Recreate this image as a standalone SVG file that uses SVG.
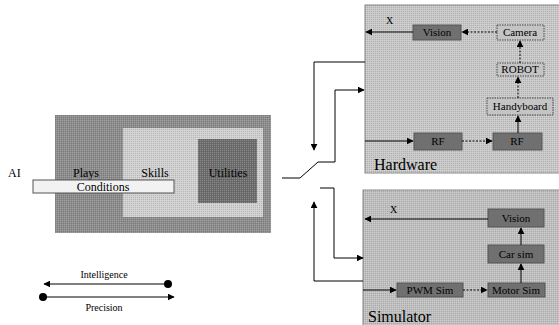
<svg xmlns="http://www.w3.org/2000/svg" width="559" height="325" viewBox="0 0 559 325">
<defs>
<marker id="ah" viewBox="0 0 10 10" refX="9" refY="5" markerWidth="7" markerHeight="7" orient="auto-start-reverse" markerUnits="userSpaceOnUse"><path d="M0,0 L10,5 L0,10 z" fill="#000"/></marker>
<marker id="dot" viewBox="0 0 10 10" refX="5" refY="5" markerWidth="8" markerHeight="8" markerUnits="userSpaceOnUse"><circle cx="5" cy="5" r="5" fill="#000"/></marker>
<pattern id="dith" width="2" height="2" patternUnits="userSpaceOnUse"><rect width="1" height="1" fill="#fff" fill-opacity="0.18"/><rect x="1" y="1" width="1" height="1" fill="#000" fill-opacity="0.12"/></pattern>
</defs>
<style>
text{font-family:"Liberation Serif","Times New Roman",serif;fill:#000}
.n{font-size:11px;text-anchor:middle}
.big{font-size:16px}
.lbl{font-size:12px;text-anchor:middle}
.line{fill:none;stroke:#000;stroke-width:1}
.dash{fill:none;stroke:#000;stroke-width:1;stroke-dasharray:2,1.5}
.dark{fill:#707070;stroke:#555;stroke-width:1}
.light{fill:#c4c4c4;stroke:#444;stroke-width:1;stroke-dasharray:1.5,1}
</style>
<g id="ai">
<text x="8" y="177" font-size="12">AI</text>
<rect x="55" y="115" width="216" height="118" fill="#8c8c8c"/>
<rect x="55" y="115" width="216" height="118" fill="url(#dith)"/>
<rect x="123" y="128" width="140" height="89" fill="#d0d0d0"/>
<rect x="123" y="128" width="140" height="89" fill="url(#dith)"/>
<rect x="198" y="139" width="59" height="64" fill="#6e6e6e"/>
<rect x="198" y="139" width="59" height="64" fill="url(#dith)"/>
<text class="lbl" x="86" y="177">Plays</text>
<text class="lbl" x="155" y="177">Skills</text>
<text class="lbl" x="228" y="177">Utilities</text>
</g>
<g id="conditions">
<rect x="33" y="180" width="141" height="13" fill="#f2f2f2" stroke="#555" stroke-width="1"/>
<text class="lbl" x="103" y="191">Conditions</text>
</g>
<g id="hardware">
<rect x="365" y="5" width="196" height="168" fill="#c8c8c8" stroke="#888" stroke-width="1"/>
<rect x="365" y="5" width="196" height="168" fill="url(#dith)"/>
<text class="big" x="374" y="170">Hardware</text>
</g>
<g id="vision"><rect class="dark" x="413" y="25" width="48" height="15"/><text class="n" x="437" y="36">Vision</text></g>
<g id="camera"><rect class="light" x="497" y="25" width="47" height="15"/><text class="n" x="520" y="36">Camera</text></g>
<g id="robot"><rect class="light" x="497" y="63" width="47" height="13"/><text class="n" x="520" y="73">ROBOT</text></g>
<g id="handyboard"><rect class="light" x="487" y="98" width="66" height="17"/><text class="n" x="520" y="110">Handyboard</text></g>
<g id="rf2"><rect class="dark" x="493" y="133" width="49" height="17"/><text class="n" x="517" y="145">RF</text></g>
<g id="rf1"><rect class="dark" x="414" y="133" width="48" height="17"/><text class="n" x="438" y="145">RF</text></g>
<g id="simulator">
<rect x="363" y="190" width="198" height="137" fill="#c0c0c0" stroke="#888" stroke-width="1"/>
<rect x="363" y="190" width="198" height="137" fill="url(#dith)"/>
<text class="big" x="368" y="322">Simulator</text>
</g>
<g id="visionsim"><rect class="dark" x="488" y="209" width="56" height="18" fill="#5a5a5a"/><text class="n" x="516" y="222">Vision</text></g>
<g id="carsim"><rect class="dark" x="488" y="245" width="56" height="18" fill="#606060"/><text class="n" x="516" y="258">Car sim</text></g>
<g id="pwmsim"><rect class="dark" x="397" y="283" width="66" height="14" fill="#8a8a8a"/><text class="n" x="430" y="294">PWM Sim</text></g>
<g id="motorsim"><rect class="dark" x="488" y="283" width="57" height="14" fill="#7a7a7a"/><text class="n" x="516" y="294">Motor Sim</text></g>
<g id="legend">
<text x="104" y="278" font-size="10" text-anchor="middle">Intelligence</text>
<path class="line" d="M168,284 L44,284" marker-start="url(#dot)" marker-end="url(#ah)"/>
<path class="line" d="M43,297 L174,297" marker-start="url(#dot)" marker-end="url(#ah)"/>
<text x="104" y="311" font-size="10" text-anchor="middle">Precision</text>
</g>
<g id="connectors">
<path class="line" d="M365,62 L314,62 L314,150" marker-end="url(#ah)"/>
<path class="line" d="M282,178 L300,178 L318,162 L335,162 L335,90 L364,90" marker-end="url(#ah)"/>
<path class="line" d="M320,188 L334,188 L334,258 L363,258" marker-end="url(#ah)"/>
<path class="line" d="M363,281 L314,281 L314,202" marker-end="url(#ah)"/>
<path class="line" d="M413,32 L366,32" marker-end="url(#ah)"/>
<text x="386" y="24" font-size="10">X</text>
<path class="dash" d="M497,32 L462,32" marker-end="url(#ah)"/>
<path class="dash" d="M520,63 L520,41" marker-end="url(#ah)"/>
<path class="dash" d="M518,98 L518,77" marker-end="url(#ah)"/>
<path class="line" d="M518,133 L518,116" marker-end="url(#ah)"/>
<path class="dash" d="M462,141 L492,141" marker-end="url(#ah)"/>
<path class="line" d="M365,141 L413,141" marker-end="url(#ah)"/>
<path class="line" d="M488,219 L365,219" marker-end="url(#ah)"/>
<text x="390" y="213" font-size="10">X</text>
<path class="line" d="M521,245 L521,228" marker-end="url(#ah)"/>
<path class="line" d="M521,283 L521,264" marker-end="url(#ah)"/>
<path class="dash" d="M463,290 L487,290" marker-end="url(#ah)"/>
<path class="line" d="M363,290 L396,290" marker-end="url(#ah)"/>
</g>
</svg>
